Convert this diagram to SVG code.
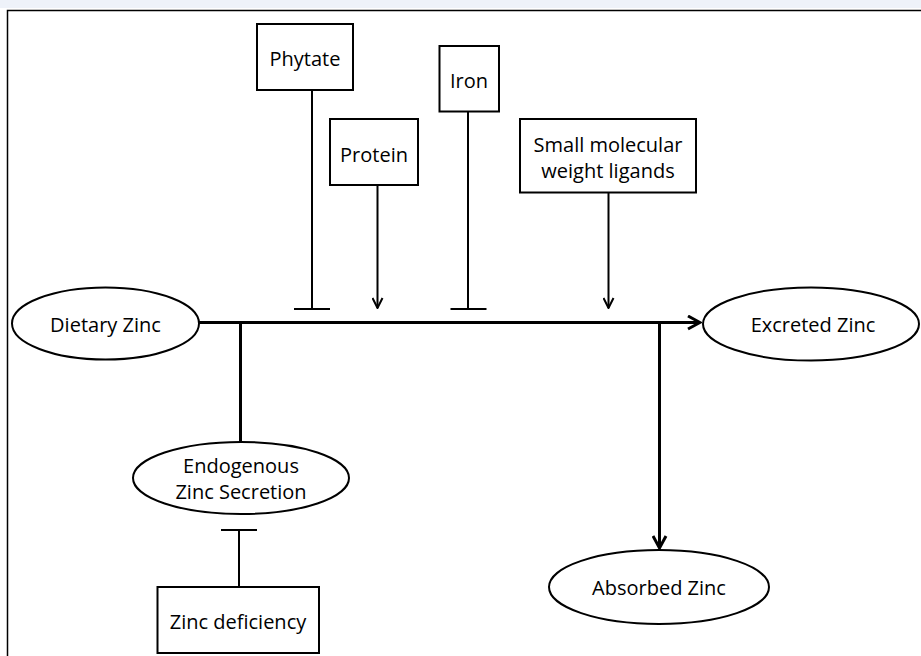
<svg xmlns="http://www.w3.org/2000/svg" width="921" height="656" viewBox="0 0 921 656">
<style>
.box{fill:#fff;stroke:#000;stroke-width:2}
.ell{fill:#fff;stroke:#000;stroke-width:2}
.t{font-family:"Open Sans","Liberation Sans",sans-serif;font-size:20px;fill:#000;text-anchor:middle}
.thin{stroke:#000;stroke-width:2;fill:none}
.thick{stroke:#000;stroke-width:3;fill:none}
</style>
<defs>
<marker id="ah" viewBox="0 0 12 12" refX="11" refY="6" markerWidth="12" markerHeight="12" markerUnits="userSpaceOnUse" orient="auto">
<path d="M1,1 L11,6 L1,11" fill="none" stroke="#000" stroke-width="2"/>
</marker>
<marker id="ahb" viewBox="0 0 16 16" refX="14" refY="8" markerWidth="16" markerHeight="16" markerUnits="userSpaceOnUse" orient="auto">
<path d="M2,1.5 L14,8 L2,14.5" fill="none" stroke="#000" stroke-width="3"/>
</marker>
</defs>
<rect x="0" y="0" width="921" height="8" fill="#eef2f9"/>
<rect x="7.5" y="10.5" width="920" height="650" fill="#fff" stroke="#000" stroke-width="1.5"/>
<g id="connectors">
<line class="thick" x1="199" y1="322.5" x2="700" y2="322.5" marker-end="url(#ahb)"/>
<line class="thin" x1="312" y1="90" x2="312" y2="309"/>
<line class="thin" x1="294" y1="309" x2="330" y2="309"/>
<line class="thin" x1="377.5" y1="185" x2="377.5" y2="308" marker-end="url(#ah)"/>
<line class="thin" x1="468" y1="111.5" x2="468" y2="309"/>
<line class="thin" x1="450.5" y1="309" x2="486.5" y2="309"/>
<line class="thin" x1="608.5" y1="192.5" x2="608.5" y2="308" marker-end="url(#ah)"/>
<line class="thick" x1="240.5" y1="322" x2="240.5" y2="441"/>
<line class="thin" x1="239" y1="530" x2="239" y2="587"/>
<line class="thin" x1="221" y1="530" x2="257" y2="530"/>
<line class="thick" x1="659.5" y1="322" x2="659.5" y2="548" marker-end="url(#ahb)"/>
</g>
<g id="phytate"><rect class="box" x="257" y="24" width="96" height="66"/><text class="t" x="305" y="66">Phytate</text></g>
<g id="protein"><rect class="box" x="330" y="119" width="88" height="66"/><text class="t" x="374" y="162">Protein</text></g>
<g id="iron"><rect class="box" x="439.5" y="46" width="59.5" height="65.5"/><text class="t" x="469" y="88">Iron</text></g>
<g id="ligands"><rect class="box" x="520" y="119" width="176" height="73.5"/><text class="t" x="608" y="152">Small molecular</text><text class="t" x="608" y="178">weight ligands</text></g>
<g id="dietary"><ellipse class="ell" cx="105.5" cy="323.5" rx="93.5" ry="36"/><text class="t" x="105.5" y="332">Dietary Zinc</text></g>
<g id="excreted"><ellipse class="ell" cx="811" cy="324" rx="108" ry="36.5"/><text class="t" x="813" y="332">Excreted Zinc</text></g>
<g id="endogenous"><ellipse class="ell" cx="241" cy="478" rx="108" ry="36"/><text class="t" x="241" y="473">Endogenous</text><text class="t" x="241" y="499">Zinc Secretion</text></g>
<g id="deficiency"><rect class="box" x="157.5" y="587" width="161.5" height="66"/><text class="t" x="238" y="629">Zinc deficiency</text></g>
<g id="absorbed"><ellipse class="ell" cx="659" cy="587" rx="110" ry="37"/><text class="t" x="659" y="595">Absorbed Zinc</text></g>
</svg>
